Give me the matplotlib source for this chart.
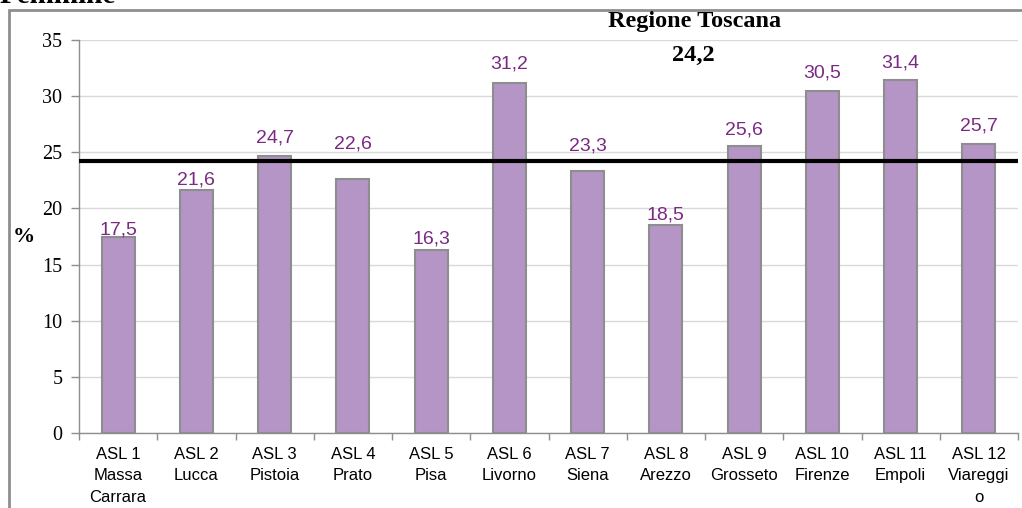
import matplotlib
matplotlib.use("Agg")
import matplotlib.pyplot as plt
from matplotlib.patches import Rectangle
import numpy as np

categories = ["ASL 1\nMassa\nCarrara", "ASL 2\nLucca", "ASL 3\nPistoia", "ASL 4\nPrato",
              "ASL 5\nPisa", "ASL 6\nLivorno", "ASL 7\nSiena", "ASL 8\nArezzo",
              "ASL 9\nGrosseto", "ASL 10\nFirenze", "ASL 11\nEmpoli", "ASL 12\nViareggi\no"]
values = [17.5, 21.6, 24.7, 22.6, 16.3, 31.2, 23.3, 18.5, 25.6, 30.5, 31.4, 25.7]
regional_value = 24.2
y_ticks = [0, 5, 10, 15, 20, 25, 30, 35]

# vertical gap (pixels) between each bar top and its value label
label_gap_px = [2, 6, 13, 31, 6, 14, 21, 6, 11, 13, 13, 14]

W, H = 1022, 508
fig = plt.figure(figsize=(W / 100, H / 100), dpi=100)
ax = fig.add_axes([79 / W, 1 - 433 / H, (1018 - 79) / W, (433 - 40) / H])

x = np.arange(len(values))
ax.bar(x, values, width=0.42, color="#B495C6", edgecolor="#8E8E8E",
       linewidth=1.5, zorder=3)

for xi, v, g in zip(x, values, label_gap_px):
    ax.annotate(f"{v:.1f}".replace(".", ","), (xi, v), xytext=(0, g * 0.72),
                textcoords="offset points", ha="center", va="baseline",
                fontsize=14, color="#7A2A82", family="Liberation Sans")

ax.axhline(regional_value, color="black", linewidth=3, zorder=4)

ax.set_xlim(-0.5, len(values) - 0.5)
ax.set_ylim(0, 35)
ax.set_yticks(y_ticks)
ax.set_yticklabels([str(t) for t in y_ticks], family="Liberation Serif", fontsize=14.5)
ax.yaxis.grid(True, color="#D9D9D9", linewidth=1, zorder=0)

ax.set_xticks(np.arange(len(values) + 1) - 0.5)
ax.set_xticklabels([])
ax.set_xticks(x, minor=True)
ax.set_xticklabels(categories, minor=True, family="Liberation Sans", fontsize=12,
                   linespacing=1.55, va="top")
ax.tick_params(axis="x", which="minor", length=0, pad=10)
ax.tick_params(axis="x", which="major", length=5, color="#8E8E8E", width=1)
ax.tick_params(axis="y", length=6, color="#8E8E8E", width=1, pad=6)

for s in ["top", "right"]:
    ax.spines[s].set_visible(False)
for s in ["left", "bottom"]:
    ax.spines[s].set_color("#8E8E8E")
    ax.spines[s].set_linewidth(1)

ax.set_ylabel("%", family="Liberation Serif", fontweight="bold", fontsize=16,
              rotation=0, labelpad=13, va="center")

# outer frame
fig.patches.append(Rectangle((9 / W, -0.05), 1.1, 1 - 10 / H + 0.05,
                             transform=fig.transFigure, fill=False,
                             edgecolor="#8E8E8E", linewidth=2, zorder=0))

fig.text(0, 1 - 3 / H, "Femmine", family="Liberation Serif", fontweight="bold",
         fontsize=21, ha="left", va="baseline")
fig.text(695 / W, 1 - 22 / H, "Regione Toscana", family="Liberation Serif",
         fontweight="bold", fontsize=17.5, ha="center", va="center")
fig.text(693 / W, 1 - 55 / H, f"{regional_value:.1f}".replace(".", ","),
         family="Liberation Serif", fontweight="bold", fontsize=17.5,
         ha="center", va="center")

fig.savefig("out.png", dpi=100)
